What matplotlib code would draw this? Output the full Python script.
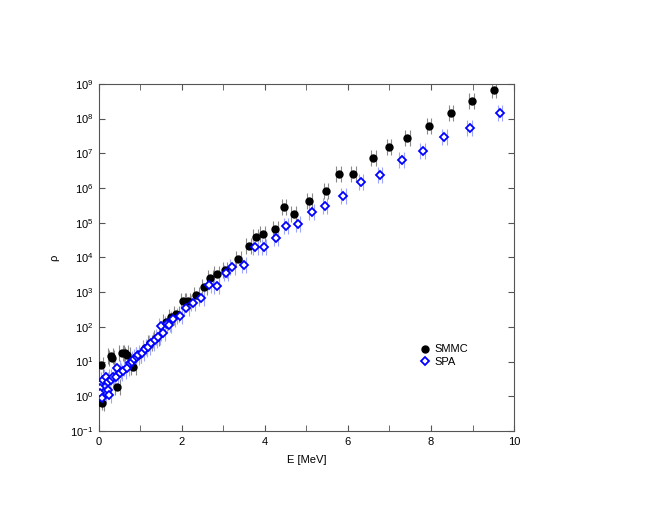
import matplotlib
matplotlib.use('Agg')
import matplotlib.pyplot as plt
import matplotlib.transforms as mtransforms
from matplotlib.ticker import LogLocator, NullLocator

plt.rcParams['font.family'] = ['Liberation Sans', 'DejaVu Sans']
plt.rcParams['font.size'] = 8

# SMMC level density
smmc_E = [0.02, 0.05, 0.07, 0.29, 0.31, 0.45, 0.55, 0.64, 0.69, 0.83, 0.95,
          1.11, 1.23, 1.39, 1.61, 1.75, 1.87, 2.03, 2.15, 2.35, 2.54, 2.69,
          2.84, 3.04, 3.36, 3.61, 3.78, 3.95, 4.25, 4.46, 4.69, 5.07, 5.47,
          5.78, 6.13, 6.61, 6.99, 7.43, 7.95, 8.48, 8.98, 9.52]
smmc_rho = [0.69, 7.9, 0.63, 14.8, 12.9, 1.9, 17.4, 17.4, 15.5, 7.1, 15.5,
            24, 34, 49, 135, 195, 234, 550, 550, 830, 1450, 2630,
            3390, 4270, 9100, 2.09e4, 3.8e4, 4.8e4, 6.8e4, 2.8e5, 1.74e5, 4.2e5, 8.1e5,
            2.57e6, 2.57e6, 7.2e6, 1.48e7, 2.75e7, 6.2e7, 1.45e8, 3.3e8, 6.5e8]

# SPA level density
spa_E = [0.02, 0.02, 0.03, 0.08, 0.10, 0.18, 0.22, 0.22, 0.24, 0.29, 0.34,
         0.42, 0.45, 0.51, 0.59, 0.67, 0.75, 0.80, 0.85, 0.91, 0.95, 1.03,
         1.11, 1.19, 1.27, 1.35, 1.43, 1.50, 1.55, 1.65, 1.69, 1.79, 1.95,
         2.11, 2.27, 2.47, 2.65, 2.84, 3.06, 3.22, 3.50, 3.77, 3.98, 4.27,
         4.51, 4.80, 5.13, 5.45, 5.89, 6.31, 6.77, 7.29, 7.80, 8.32, 8.93, 9.66]
spa_rho = [2.3, 1.7, 1.23, 0.87, 2.95, 3.6, 2.6, 1.5, 1.1, 2.95, 3.5,
           3.6, 6.5, 4.6, 5.4, 6.5, 8.9, 10, 11.7, 13.8, 15.5, 17.4,
           23, 27, 34, 42, 52, 107, 68, 117, 112, 166, 204,
           339, 500, 690, 1580, 1510, 3630, 5370, 6030, 2.04e4, 2.04e4, 3.7e4,
           7.9e4, 8.9e4, 2.04e5, 3.1e5, 5.75e5, 1.45e6, 2.34e6, 6.2e6, 1.17e7, 2.95e7, 5.25e7, 1.45e8]

err_factor = 1.7  # multiplicative size of the error bars

x_ticks = [0, 2, 4, 6, 8, 10]


def errs(rho):
    return [[r - r / err_factor for r in rho], [r * err_factor - r for r in rho]]


fig = plt.figure(figsize=(6.54, 5.05), dpi=100)
ax = fig.add_axes([0.151, 0.1465, 0.635, 0.6875])

# error bars drawn as a pair of thin lines on each side of the marker
for dx in (-2.3, 2.3):
    off = mtransforms.offset_copy(ax.transData, fig=fig, x=dx, y=0, units='dots')
    ax.errorbar(smmc_E, smmc_rho, yerr=errs(smmc_rho), fmt='none',
                ecolor='#8a8a8a', elinewidth=0.8, capsize=0, transform=off, zorder=2)
    ax.errorbar(spa_E, spa_rho, yerr=errs(spa_rho), fmt='none',
                ecolor='#9fa6ff', elinewidth=0.8, capsize=0, transform=off, zorder=2)

ax.plot(smmc_E, smmc_rho, 'o', color='black', markersize=5.0, label='SMMC', zorder=3)
ax.plot(spa_E, spa_rho, 'D', color='#0000ff', markerfacecolor='white',
        markersize=4.0, markeredgewidth=1.3, label='SPA', zorder=4)

ax.set_yscale('log')
ax.set_xlim(0, 10)
ax.set_ylim(1e-1, 1e9)
ax.set_xticks(x_ticks)
ax.set_xticks(range(0, 11), minor=True)
ax.yaxis.set_major_locator(LogLocator(base=10, numticks=20))
ax.yaxis.set_minor_locator(NullLocator())

ax.tick_params(which='both', direction='in', top=True, right=True,
               color='#555555', labelsize=8, pad=4, length=4)
for s in ax.spines.values():
    s.set_color('#555555')
    s.set_linewidth(0.8)

ax.set_xlabel('E [MeV]', fontsize=8, labelpad=6)
ax.set_ylabel('ρ', fontsize=8, labelpad=8)

ax.legend(loc='upper left', bbox_to_anchor=(0.765, 0.262), frameon=False,
          handlelength=0.8, handletextpad=0.4, borderaxespad=0, labelspacing=0.25,
          fontsize=8)

fig.savefig('out.png', dpi=100)
